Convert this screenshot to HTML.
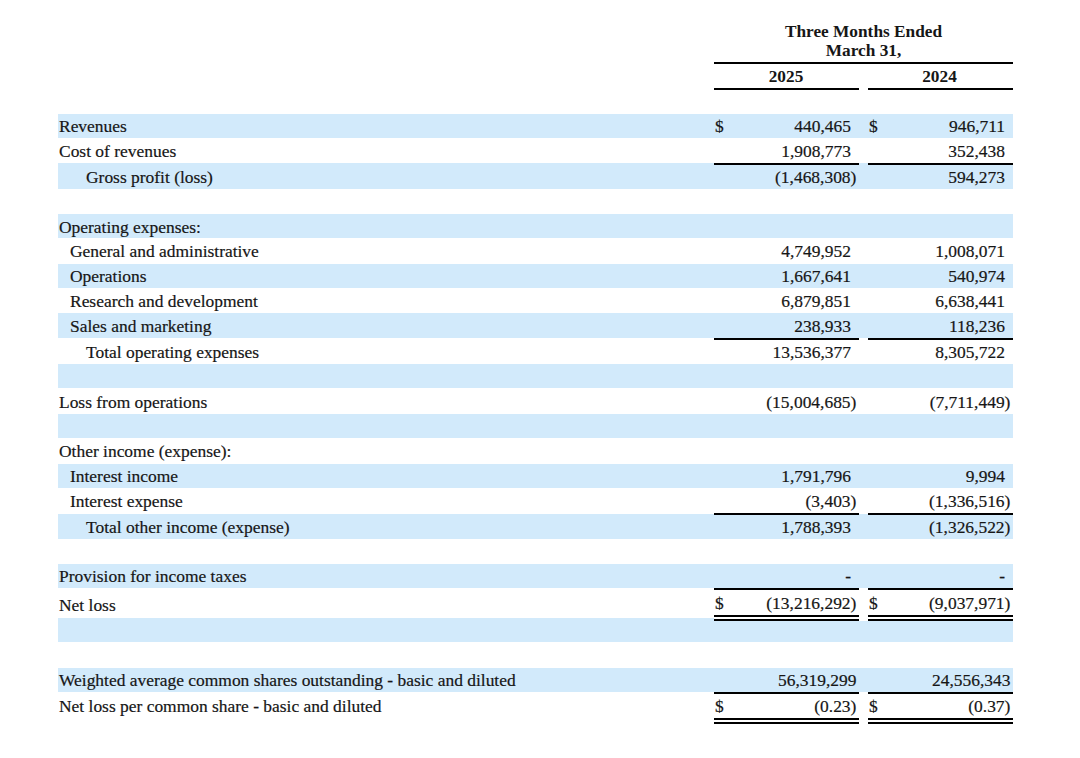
<!DOCTYPE html>
<html><head><meta charset="utf-8"><title>Statement of Operations</title>
<style>
html,body{margin:0;padding:0;background:#fff;}
body{width:1080px;height:758px;overflow:hidden;position:relative;font-family:"Liberation Serif",serif;font-size:17.45px;color:#161616;-webkit-text-stroke:0.2px #161616;}
.b{position:absolute;left:57.5px;width:955.5px;background:#d2eafb;}
.r{position:absolute;background:#000;}
.t{position:absolute;line-height:20px;white-space:nowrap;}
.n{position:absolute;line-height:20px;white-space:nowrap;text-align:right;}
.h{position:absolute;line-height:20px;white-space:nowrap;font-weight:bold;text-align:center;font-size:17.3px;-webkit-text-stroke:0;}
</style></head><body>

<div class="b" style="top:114px;height:24px"></div>
<div class="b" style="top:163px;height:26px"></div>
<div class="b" style="top:214px;height:24px"></div>
<div class="b" style="top:264px;height:24px"></div>
<div class="b" style="top:313px;height:25px"></div>
<div class="b" style="top:364px;height:24px"></div>
<div class="b" style="top:414px;height:24px"></div>
<div class="b" style="top:464px;height:24px"></div>
<div class="b" style="top:514px;height:25px"></div>
<div class="b" style="top:564px;height:24px"></div>
<div class="b" style="top:618px;height:24px;width:656.5px"></div>
<div class="b" style="top:621px;height:21px;left:714px;width:299px"></div>
<div class="b" style="top:668px;height:24px"></div>
<div class="r" style="top:62px;height:2px;left:714px;width:299px"></div>
<div class="r" style="top:88px;height:2px;left:714px;width:145px"></div>
<div class="r" style="top:88px;height:2px;left:868px;width:145px"></div>
<div class="r" style="top:163px;height:2px;left:714px;width:145px"></div>
<div class="r" style="top:163px;height:2px;left:868px;width:145px"></div>
<div class="r" style="top:338px;height:2px;left:714px;width:145px"></div>
<div class="r" style="top:338px;height:2px;left:868px;width:145px"></div>
<div class="r" style="top:513px;height:2px;left:714px;width:145px"></div>
<div class="r" style="top:513px;height:2px;left:868px;width:145px"></div>
<div class="r" style="top:588px;height:2px;left:714px;width:145px"></div>
<div class="r" style="top:588px;height:2px;left:868px;width:145px"></div>
<div class="r" style="top:615px;height:2px;left:714px;width:145px"></div>
<div class="r" style="top:615px;height:2px;left:868px;width:145px"></div>
<div class="r" style="top:619px;height:2px;left:714px;width:145px"></div>
<div class="r" style="top:619px;height:2px;left:868px;width:145px"></div>
<div class="r" style="top:692px;height:2px;left:714px;width:145px"></div>
<div class="r" style="top:692px;height:2px;left:868px;width:145px"></div>
<div class="r" style="top:718px;height:2px;left:714px;width:145px"></div>
<div class="r" style="top:718px;height:2px;left:868px;width:145px"></div>
<div class="r" style="top:722px;height:2px;left:714px;width:145px"></div>
<div class="r" style="top:722px;height:2px;left:868px;width:145px"></div>
<div class="h" style="top:21.5px;left:714px;width:299px">Three Months Ended</div>
<div class="h" style="top:40.7px;left:714px;width:299px">March 31,</div>
<div class="h" style="top:66.5px;left:713.5px;width:145px">2025</div>
<div class="h" style="top:66.5px;left:867px;width:145px">2024</div>
<div class="t" style="top:116.0px;left:59px">Revenues</div>
<div class="t" style="top:116.0px;left:715px">$</div>
<div class="n" style="top:116.0px;right:229.0px">440,465</div>
<div class="t" style="top:116.0px;left:869px">$</div>
<div class="n" style="top:116.0px;right:75.0px">946,711</div>
<div class="t" style="top:140.5px;left:59px">Cost of revenues</div>
<div class="n" style="top:140.5px;right:229.0px">1,908,773</div>
<div class="n" style="top:140.5px;right:75.0px">352,438</div>
<div class="t" style="top:167.0px;left:86px">Gross profit (loss)</div>
<div class="n" style="top:167.0px;right:223.6px">(1,468,308)</div>
<div class="n" style="top:167.0px;right:75.0px">594,273</div>
<div class="t" style="top:216.5px;left:59px">Operating expenses:</div>
<div class="t" style="top:241.0px;left:70px">General and administrative</div>
<div class="n" style="top:241.0px;right:229.0px">4,749,952</div>
<div class="n" style="top:241.0px;right:75.0px">1,008,071</div>
<div class="t" style="top:265.5px;left:70px">Operations</div>
<div class="n" style="top:265.5px;right:229.0px">1,667,641</div>
<div class="n" style="top:265.5px;right:75.0px">540,974</div>
<div class="t" style="top:290.5px;left:70px">Research and development</div>
<div class="n" style="top:290.5px;right:229.0px">6,879,851</div>
<div class="n" style="top:290.5px;right:75.0px">6,638,441</div>
<div class="t" style="top:316.0px;left:70px">Sales and marketing</div>
<div class="n" style="top:316.0px;right:229.0px">238,933</div>
<div class="n" style="top:316.0px;right:75.0px">118,236</div>
<div class="t" style="top:341.8px;left:86px">Total operating expenses</div>
<div class="n" style="top:341.8px;right:229.0px">13,536,377</div>
<div class="n" style="top:341.8px;right:75.0px">8,305,722</div>
<div class="t" style="top:392.3px;left:59px">Loss from operations</div>
<div class="n" style="top:392.3px;right:223.6px">(15,004,685)</div>
<div class="n" style="top:392.3px;right:69.6px">(7,711,449)</div>
<div class="t" style="top:441.0px;left:59px">Other income (expense):</div>
<div class="t" style="top:465.6px;left:70px">Interest income</div>
<div class="n" style="top:465.6px;right:229.0px">1,791,796</div>
<div class="n" style="top:465.6px;right:75.0px">9,994</div>
<div class="t" style="top:490.6px;left:70px">Interest expense</div>
<div class="n" style="top:490.6px;right:223.6px">(3,403)</div>
<div class="n" style="top:490.6px;right:69.6px">(1,336,516)</div>
<div class="t" style="top:516.7px;left:86px">Total other income (expense)</div>
<div class="n" style="top:516.7px;right:229.0px">1,788,393</div>
<div class="n" style="top:516.7px;right:69.6px">(1,326,522)</div>
<div class="t" style="top:566.2px;left:59px">Provision for income taxes</div>
<div class="n" style="top:566.2px;right:229.0px">-</div>
<div class="n" style="top:566.2px;right:75.0px">-</div>
<div class="t" style="top:594.8px;left:59px">Net loss</div>
<div class="t" style="top:593.0px;left:715px">$</div>
<div class="n" style="top:593.0px;right:223.6px">(13,216,292)</div>
<div class="t" style="top:593.0px;left:869px">$</div>
<div class="n" style="top:593.0px;right:69.6px">(9,037,971)</div>
<div class="t" style="top:669.6px;left:59px">Weighted average common shares outstanding - basic and diluted</div>
<div class="n" style="top:669.6px;right:223.6px">56,319,299</div>
<div class="n" style="top:669.6px;right:69.6px">24,556,343</div>
<div class="t" style="top:696.1px;left:59px">Net loss per common share - basic and diluted</div>
<div class="t" style="top:696.1px;left:715px">$</div>
<div class="n" style="top:696.1px;right:223.6px">(0.23)</div>
<div class="t" style="top:696.1px;left:869px">$</div>
<div class="n" style="top:696.1px;right:69.6px">(0.37)</div>
</body></html>
